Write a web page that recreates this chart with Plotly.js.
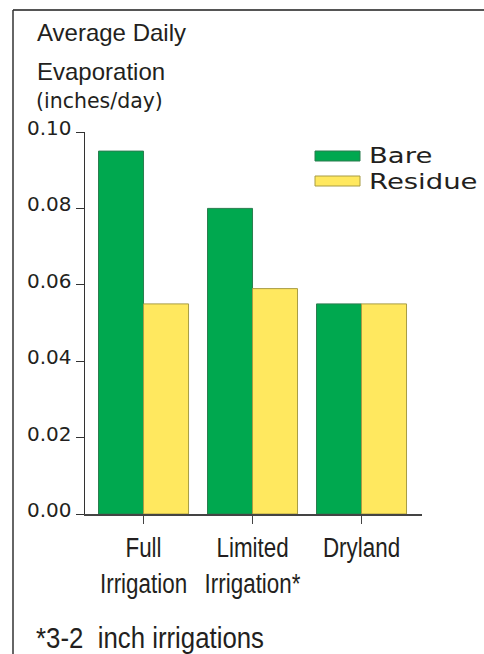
<!DOCTYPE html>
<html>
<head>
<meta charset="utf-8">
<script src="https://cdn.plot.ly/plotly-3.0.1.min.js"></script>
<style>
  html, body { margin: 0; padding: 0; background: #ffffff; }
  #chart { width: 484px; height: 654px; }
  /* condensed look for axis category labels and footnote, extended look for legend names */
  #chart g.xtick { transform-box: fill-box; transform-origin: 50% 50%; transform: scaleX(0.8); }
  #chart g.annotation[data-index="5"] text { transform-box: fill-box; transform-origin: 0% 50%; transform: scaleX(0.86); }
  #chart g.annotation[data-index="3"] text,
  #chart g.annotation[data-index="4"] text { transform-box: fill-box; transform-origin: 0% 50%; transform: scaleX(1.25); }
</style>
</head>
<body>
<div id="chart"></div>
<script>
// ---- data ----
const categories = ["Full<br>Irrigation", "Limited<br>Irrigation*", "Dryland"];
const seriesNames = ["Bare", "Residue"];
const bareValues = [0.095, 0.080, 0.055];
const residueValues = [0.055, 0.059, 0.055];
const yTickValues = [0, 0.02, 0.04, 0.06, 0.08, 0.10];
const yTickLabels = ["0.00", "0.02", "0.04", "0.06", "0.08", "0.10"];
const titleLines = ["Average Daily", "Evaporation", "(inches/day)"];
const footnote = "*3-2\u00a0 inch irrigations";

// ---- layout helpers (pixel -> paper) ----
const W = 484, H = 654;
const M = { l: 85, r: 62, t: 132, b: 140 };
const PW = W - M.l - M.r, PH = H - M.t - M.b;
const px = x => (x - M.l) / PW;
const py = y => (H - M.b - y) / PH;

const arial = "Liberation Sans, Arial, sans-serif";
const wide = "DejaVu Sans, Verdana, sans-serif";
const ink = "#231f20";
const green = "#00a84f", yellow = "#ffe85f";

const traces = [
  { type: "bar", name: seriesNames[0], x: categories, y: bareValues,
    marker: { color: green, line: { color: "#2b7d4f", width: 1 } },
    hoverinfo: "none", showlegend: false },
  { type: "bar", name: seriesNames[1], x: categories, y: residueValues,
    marker: { color: yellow, line: { color: "#a89c44", width: 1 } },
    hoverinfo: "none", showlegend: false }
];

const shapes = [
  { type: "line", xref: "paper", yref: "paper", x0: px(13), x1: px(484), y0: py(10), y1: py(10),
    line: { color: "#555555", width: 2 } },
  { type: "line", xref: "paper", yref: "paper", x0: px(13), x1: px(13), y0: py(10), y1: py(654),
    line: { color: "#333333", width: 1.5 } },
  { type: "rect", xref: "paper", yref: "paper", x0: px(315), x1: px(360), y0: py(151), y1: py(161),
    fillcolor: green, line: { color: "#2b7d4f", width: 1 } },
  { type: "rect", xref: "paper", yref: "paper", x0: px(315), x1: px(360), y0: py(176), y1: py(186),
    fillcolor: yellow, line: { color: "#a89c44", width: 1 } }
];

const annotations = [
  { text: titleLines[0], x: px(35), y: py(32), font: { family: arial, size: 24, color: ink } },
  { text: titleLines[1], x: px(35), y: py(71), font: { family: arial, size: 24, color: ink } },
  { text: titleLines[2], x: px(34), y: py(101), font: { family: wide, size: 20.5, color: ink } },
  { text: seriesNames[0], x: px(367), y: py(156), font: { family: wide, size: 22, color: ink } },
  { text: seriesNames[1], x: px(367), y: py(181), font: { family: wide, size: 22, color: ink } },
  { text: footnote, x: px(34), y: py(637), font: { family: arial, size: 30, color: ink } }
].map(a => Object.assign({ xref: "paper", yref: "paper", xanchor: "left", yanchor: "middle",
  showarrow: false }, a));

const layout = {
  width: W, height: H,
  margin: M,
  paper_bgcolor: "#ffffff", plot_bgcolor: "#ffffff",
  barmode: "group", bargap: 0.174, bargroupgap: 0,
  showlegend: false,
  xaxis: {
    range: [-0.537, 2.555], showgrid: false, zeroline: false,
    showline: true, linecolor: "#444444", linewidth: 1.5,
    ticks: "outside", ticklen: 8, tickcolor: "#444444", tickwidth: 1,
    tickangle: 0,
    tickfont: { family: arial, size: 28, color: ink },
    fixedrange: true
  },
  yaxis: {
    range: [0, 0.10], showgrid: false, zeroline: false,
    showline: true, linecolor: "#333333", linewidth: 1.5,
    ticks: "outside", ticklen: 8, tickcolor: "#333333", tickwidth: 1,
    tickvals: yTickValues, ticktext: yTickLabels,
    tickfont: { family: wide, size: 20, color: ink },
    ticklabelshift: -4,
    fixedrange: true
  },
  shapes: shapes,
  annotations: annotations
};

Plotly.newPlot("chart", traces, layout, { staticPlot: true, displayModeBar: false });
</script>
</body>
</html>
